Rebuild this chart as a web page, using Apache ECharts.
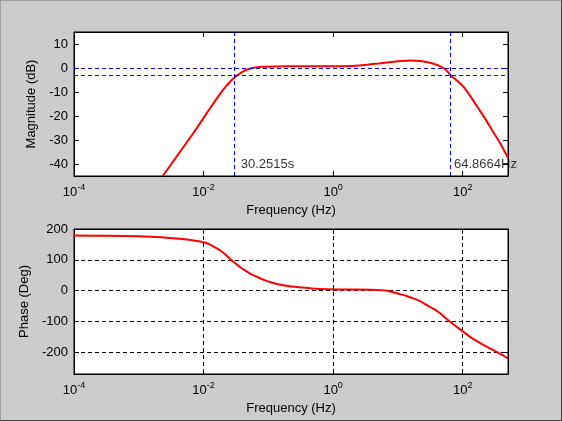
<!DOCTYPE html>
<html>
<head>
<meta charset="utf-8">
<script src="https://cdn.jsdelivr.net/npm/echarts@6/dist/echarts.min.js"></script>
<style>
html,body{margin:0;padding:0;background:#cccccc;}
#c{width:562px;height:421px;position:absolute;left:0;top:0;}
#b{position:absolute;left:0;top:0;width:562px;height:421px;box-sizing:border-box;border-left:1px solid #a0a0a0;border-top:1px solid #a0a0a0;border-right:1px solid #404040;border-bottom:1px solid #404040;pointer-events:none;}
</style>
</head>
<body>
<div id="c"></div>
<div id="b"></div>
<script>
// Magnitude response (frequency in Hz, magnitude in dB)
const magFreq = [0.00234,0.00398,0.00692,0.0120,0.0148,0.0174,0.0200,0.0229,0.0257,0.0288,0.0331,0.0380,0.0437,0.0513,0.0631,0.0832,0.126,0.316,1,1.82,3.31,5.01,7.94,11.2,15.8,21.9,28.8,35.5,42.7,50.1,57.5,64.9,79.4,102,132,174,224,282,380,500];
const magDb   = [-45,-36.3,-27.2,-17.6,-14.0,-11.3,-9.1,-7.1,-5.7,-4.4,-3.0,-1.9,-1.0,-0.3,0.2,0.5,0.65,0.7,0.7,0.8,1.4,1.9,2.5,2.9,3.1,2.9,2.4,1.8,1.0,0,-1.3,-3.0,-5.0,-7.8,-11.9,-16.8,-21.3,-25.8,-31.5,-37.5];
// Phase response (frequency in Hz, phase in degrees)
const phFreq = [0.0001,0.000316,0.001,0.00219,0.00427,0.00631,0.01,0.0120,0.0141,0.0170,0.0200,0.0234,0.0269,0.0316,0.0363,0.0427,0.0513,0.0617,0.0741,0.0891,0.105,0.141,0.191,0.251,0.347,0.631,1.58,3.98,6.76,8.51,10.7,13.5,17.4,21.9,27.5,35.5,44.7,52.5,63.1,79.4,100,135,186,251,316,398,500];
const phDeg  = [179,178,176.5,173.5,168.5,164,157,151.5,144,134,123,111,99,87,77,66.5,56.5,48,40.5,33.5,28,21,16,12.5,10,5.5,4,3,0,-5,-11,-17,-25,-34,-46,-59,-73,-86,-100,-116,-132,-152,-170,-185,-196,-207,-219];
// Cutoff markers
const cutoffFreqs = [0.033056, 64.8664];
const cutoffLabels = ['30.2515s', '64.8664Hz'];
const refLevels = [0, -3];
const labelLevel = -40;

const FONT = '"Liberation Sans", Arial, Helvetica, sans-serif';
const toPairs = (xs, ys) => xs.map((x, i) => [x, ys[i]]);
const BLUE_DASH = {color: '#0000ff', type: [4, 3], width: 1};

function logLabel(v) {
  const l = Math.log10(v);
  const e = Math.round(l);
  if (Math.abs(l - e) > 1e-6) return '';
  return '{b|10}{e|' + e + '}';
}
const logRich = {
  b: {fontSize: 13, fontFamily: FONT, color: '#000'},
  e: {fontSize: 9, fontFamily: FONT, color: '#000', padding: [0, 0, 10, 0]}
};

function xAx(grid, pos, withLabels, split) {
  return {
    type: 'log', logBase: 10, gridIndex: grid, position: pos,
    min: 0.0001, max: 500, interval: 2,
    name: withLabels ? 'Frequency (Hz)' : '',
    nameLocation: 'middle', nameGap: 28,
    nameTextStyle: {fontSize: 13, fontFamily: FONT, color: '#000'},
    axisLine: {show: true, onZero: false, lineStyle: {color: '#000', width: 1}},
    axisTick: {show: true, inside: true, length: 5, lineStyle: {color: '#000', width: 1}},
    minorTick: {show: false},
    axisLabel: {show: withLabels, margin: 7, formatter: logLabel, rich: logRich},
    splitLine: {show: split, lineStyle: {color: '#000', type: [4, 3], width: 1}},
    minorSplitLine: {show: false}
  };
}
function yAx(grid, pos, min, max, name, gap, withLabels, split) {
  return {
    type: 'value', gridIndex: grid, position: pos, min: min, max: max,
    name: name, nameLocation: 'middle', nameGap: gap, nameRotate: 90,
    nameTextStyle: {fontSize: 13, fontFamily: FONT, color: '#000'},
    axisLine: {show: true, onZero: false, lineStyle: {color: '#000', width: 1}},
    axisTick: {show: true, inside: true, length: 5, lineStyle: {color: '#000', width: 1}},
    axisLabel: {show: withLabels, margin: 6, fontSize: 13, fontFamily: FONT, color: '#000',
      formatter: v => (v % 10 !== 0 || v === -270) ? '' : String(v)},
    splitLine: {show: split, lineStyle: {color: '#000', type: [4, 3], width: 1}}
  };
}

const option = {
  animation: false,
  backgroundColor: '#cccccc',
  textStyle: {fontFamily: FONT},
  grid: [
    {left: 74, width: 434, top: 32, height: 144, show: true, backgroundColor: '#fff', borderColor: '#000', borderWidth: 1, containLabel: false},
    {left: 74, width: 434, top: 229, height: 145, show: true, backgroundColor: '#fff', borderColor: '#000', borderWidth: 1, containLabel: false}
  ],
  xAxis: [
    xAx(0, 'bottom', true, false),
    xAx(0, 'top', false, false),
    xAx(1, 'bottom', true, true),
    xAx(1, 'top', false, false)
  ],
  yAxis: [
    yAx(0, 'left', -45, 15, 'Magnitude (dB)', 31, true, false),
    yAx(0, 'right', -45, 15, '', 0, false, false),
    yAx(1, 'left', -270, 200, 'Phase (Deg)', 36, true, true),
    yAx(1, 'right', -270, 200, '', 0, false, false)
  ],
  series: [
    {
      type: 'line', xAxisIndex: 0, yAxisIndex: 0, data: toPairs(magFreq, magDb),
      showSymbol: false, smooth: 0.25, clip: true,
      lineStyle: {color: '#ff0000', width: 2},
      markLine: {
        silent: true, symbol: 'none', animation: false,
        label: {show: false},
        lineStyle: BLUE_DASH,
        data: cutoffFreqs.map(f => ({xAxis: f, lineStyle: BLUE_DASH}))
          .concat(refLevels.map(v => ({yAxis: v, lineStyle: BLUE_DASH})))
      },
      z: 3
    },
    {
      type: 'scatter', xAxisIndex: 0, yAxisIndex: 0,
      data: cutoffFreqs.map((f, i) => ({value: [f, labelLevel], name: cutoffLabels[i]})),
      symbolSize: 1, itemStyle: {color: 'rgba(0,0,0,0)'},
      label: {show: true, position: 'right', distance: 3, formatter: p => p.name,
        fontSize: 13, fontFamily: FONT, color: '#000'},
      silent: true, z: 4
    },
    {
      type: 'line', xAxisIndex: 2, yAxisIndex: 2, data: toPairs(phFreq, phDeg),
      showSymbol: false, smooth: 0.25, clip: true,
      lineStyle: {color: '#ff0000', width: 2}, z: 3
    }
  ]
};
const chart = echarts.init(document.getElementById('c'), null, {renderer: 'canvas'});
chart.setOption(option);
</script>
</body>
</html>
